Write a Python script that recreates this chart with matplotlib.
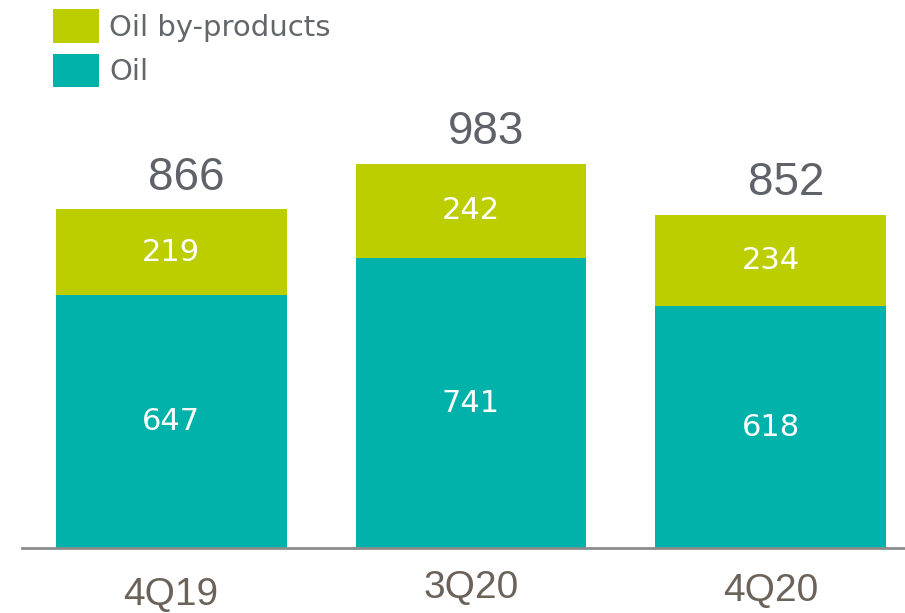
import matplotlib
matplotlib.use("Agg")
import matplotlib.pyplot as plt
from matplotlib import font_manager

quarters = ["4Q19", "3Q20", "4Q20"]
oil = [647, 741, 618]
by_products = [219, 242, 234]
totals = [866, 983, 852]

TEAL = "#00B2A9"
LIME = "#BCCD00"


def pick_font(names):
    for name in names:
        try:
            font_manager.findfont(name, fallback_to_default=False)
            return name
        except ValueError:
            pass
    return "DejaVu Sans"


narrow = pick_font(["Liberation Sans Narrow", "Liberation Sans"])

fig = plt.figure(figsize=(9.05, 6.13), dpi=100)
# axes spans from the baseline up to the top edge
ax = fig.add_axes([22 / 905, 65 / 613, 883 / 905, 548 / 613])

x = list(range(len(quarters)))
ax.bar(x, oil, width=0.77, color=TEAL, label="Oil")
ax.bar(x, by_products, width=0.77, bottom=oil, color=LIME, label="Oil by-products")

ax.set_xlim(-0.4967, 2.4467)
ax.set_ylim(0, 1401)

for s in ["top", "right", "left"]:
    ax.spines[s].set_visible(False)
ax.spines["bottom"].set_color("#8C8C8C")
ax.spines["bottom"].set_linewidth(2)
ax.set_yticks([])
ax.set_xticks([])

# segment values inside the bars
for i in x:
    ax.text(i, oil[i] / 2, str(oil[i]), ha="center", va="center",
            color="white", fontsize=22)
    ax.text(i, oil[i] + by_products[i] / 2, str(by_products[i]),
            ha="center", va="center", color="white", fontsize=22)

# totals above the bars
for i in x:
    ax.annotate(str(totals[i]), xy=(i + 0.05, totals[i]), xytext=(0, 14),
                textcoords="offset points", ha="center", va="baseline",
                color="#5F6369", fontsize=33, family=narrow)

# quarter labels, slightly staggered
label_drop = [34, 28.5, 31]
for i, q in enumerate(quarters):
    ax.annotate(q, xy=(i, 0), xycoords=("data", "axes fraction"),
                xytext=(0, -label_drop[i]), textcoords="offset points",
                ha="center", va="center", color="#6B6259", fontsize=28,
                family=narrow)

handles, labels = ax.get_legend_handles_labels()
leg = fig.legend(handles[::-1], labels[::-1], loc="upper left",
                 bbox_to_anchor=(33 / 905, 1 + 11 / 613), frameon=False,
                 fontsize=21, handlelength=1.57, handleheight=1.39,
                 handletextpad=0.35, labelspacing=0.38, borderpad=0.2)
for t in leg.get_texts():
    t.set_color("#63666A")

fig.savefig("out.png", dpi=100)
